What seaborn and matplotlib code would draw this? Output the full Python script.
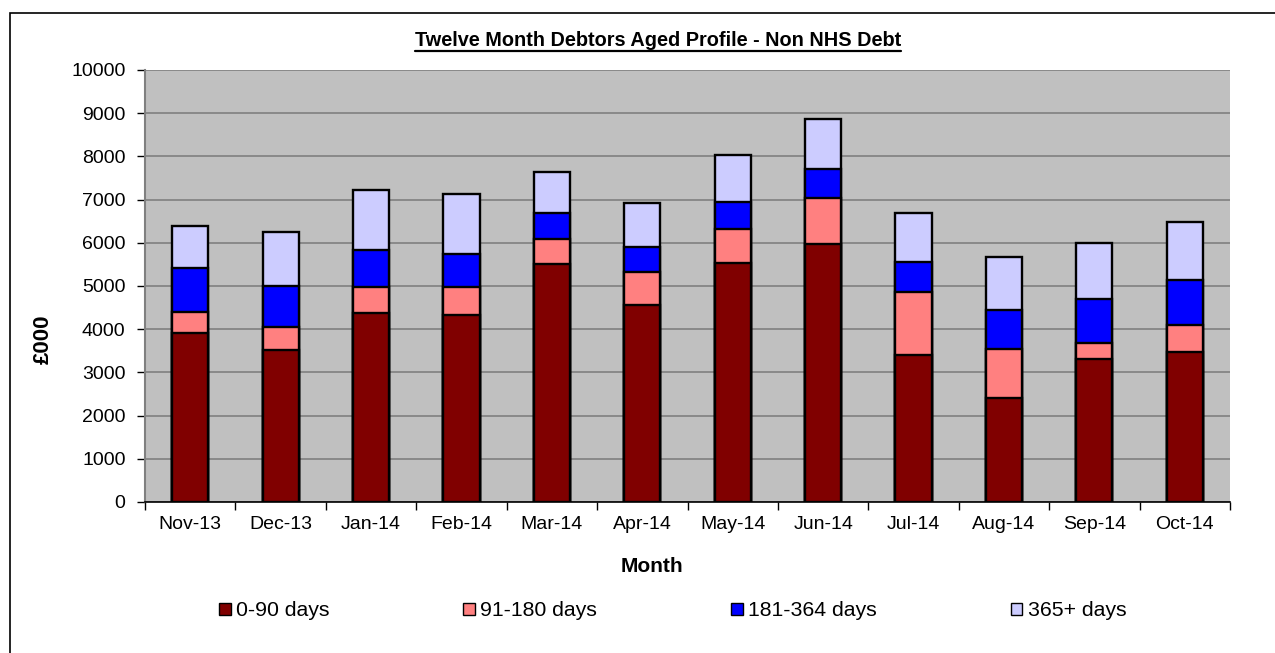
import matplotlib.pyplot as plt
import pandas as pd
import seaborn as sns
from matplotlib.lines import Line2D
from matplotlib.patches import Patch, Rectangle

months = ['Nov-13', 'Dec-13', 'Jan-14', 'Feb-14', 'Mar-14', 'Apr-14',
          'May-14', 'Jun-14', 'Jul-14', 'Aug-14', 'Sep-14', 'Oct-14']
days_0_90 = [3910, 3520, 4380, 4330, 5520, 4550, 5540, 5970, 3400, 2410, 3310, 3470]
days_91_180 = [490, 520, 600, 650, 560, 780, 790, 1070, 1450, 1140, 360, 620]
days_181_364 = [1020, 950, 860, 770, 620, 570, 620, 660, 700, 890, 1040, 1040]
days_365_plus = [960, 1250, 1390, 1370, 930, 1010, 1080, 1170, 1150, 1240, 1290, 1340]

series = ['0-90 days', '91-180 days', '181-364 days', '365+ days']
colors = ['#800000', '#FF8080', '#0000FF', '#CCCCFF']

df = pd.DataFrame({'Month': months,
                   '0-90 days': days_0_90,
                   '91-180 days': days_91_180,
                   '181-364 days': days_181_364,
                   '365+ days': days_365_plus})
cum = df[series].cumsum(axis=1)

sns.set_style('white')
plt.rcParams['font.family'] = ['Liberation Sans', 'DejaVu Sans']
plt.rcParams['text.color'] = 'black'
plt.rcParams['xtick.color'] = 'black'
plt.rcParams['ytick.color'] = 'black'

W, H = 1275, 653
fig = plt.figure(figsize=(12.75, 6.53), dpi=100)
ax = fig.add_axes([145 / W, 1 - 502 / H, 1085 / W, 432 / H])
ax.set_facecolor('#C0C0C0')

# stacked bars: draw running totals from the top segment down
for name, col in reversed(list(zip(series, colors))):
    sns.barplot(x=df['Month'], y=cum[name], color=col, saturation=1,
                width=0.4, edgecolor='black', linewidth=1.7, ax=ax, zorder=3)

ax.set_ylim(0, 10000)
ax.set_yticks(range(0, 10001, 1000))
ax.set_xlim(-0.5, 11.5)
ax.yaxis.grid(True, color='#808080', linewidth=1.2, zorder=0)
ax.set_axisbelow(True)
ax.set_xlabel('')
ax.set_ylabel('')

for s in ['top', 'right']:
    ax.spines[s].set_visible(False)
ax.spines['left'].set_color('#808080')
ax.spines['left'].set_linewidth(1.5)
ax.spines['bottom'].set_color('black')
ax.spines['bottom'].set_linewidth(1.2)

ax.tick_params(axis='y', direction='out', length=6, width=1, color='black',
               labelcolor='black', labelsize=14, pad=8, left=True)
ax.tick_params(axis='x', which='major', length=0, labelcolor='black',
               labelsize=14, pad=10)
ax.set_xticks([i + 0.5 for i in range(-1, 12)], minor=True)
ax.tick_params(axis='x', which='minor', direction='out', length=6, width=1,
               color='black', bottom=True)

# chart border
fig.patches.append(Rectangle((10 / W, -0.05), 1.2, 1 - 13 / H + 0.05,
                             transform=fig.transFigure, fill=False,
                             edgecolor='black', linewidth=1.2))

title = fig.text(658 / W, 1 - 40 / H,
                 'Twelve Month Debtors Aged Profile - Non NHS Debt',
                 ha='center', va='center', fontsize=14.3, fontweight='bold')
fig.text(652 / W, 1 - 567 / H, 'Month', ha='center', va='center',
         fontsize=15, fontweight='bold')
fig.text(43 / W, 1 - 339 / H, '£000', ha='center', va='center',
         rotation=90, fontsize=16, fontweight='bold')

handles = [Patch(facecolor=c, edgecolor='black', linewidth=1) for c in colors]
fig.legend(handles, series, loc='center left', ncol=4,
           bbox_to_anchor=(219 / W, 1 - 611 / H), frameon=False,
           fontsize=15.3, handlelength=0.55, handleheight=0.55,
           handletextpad=0.25, columnspacing=6.3, borderpad=0,
           borderaxespad=0, labelcolor='black')

# underline the title
fig.canvas.draw()
bb = title.get_window_extent()
y_line = bb.y0 - 1
fig.lines.append(Line2D([bb.x0, bb.x1], [y_line, y_line], color='black',
                        linewidth=1.6, transform=None))

fig.savefig('out.png', dpi=100)
